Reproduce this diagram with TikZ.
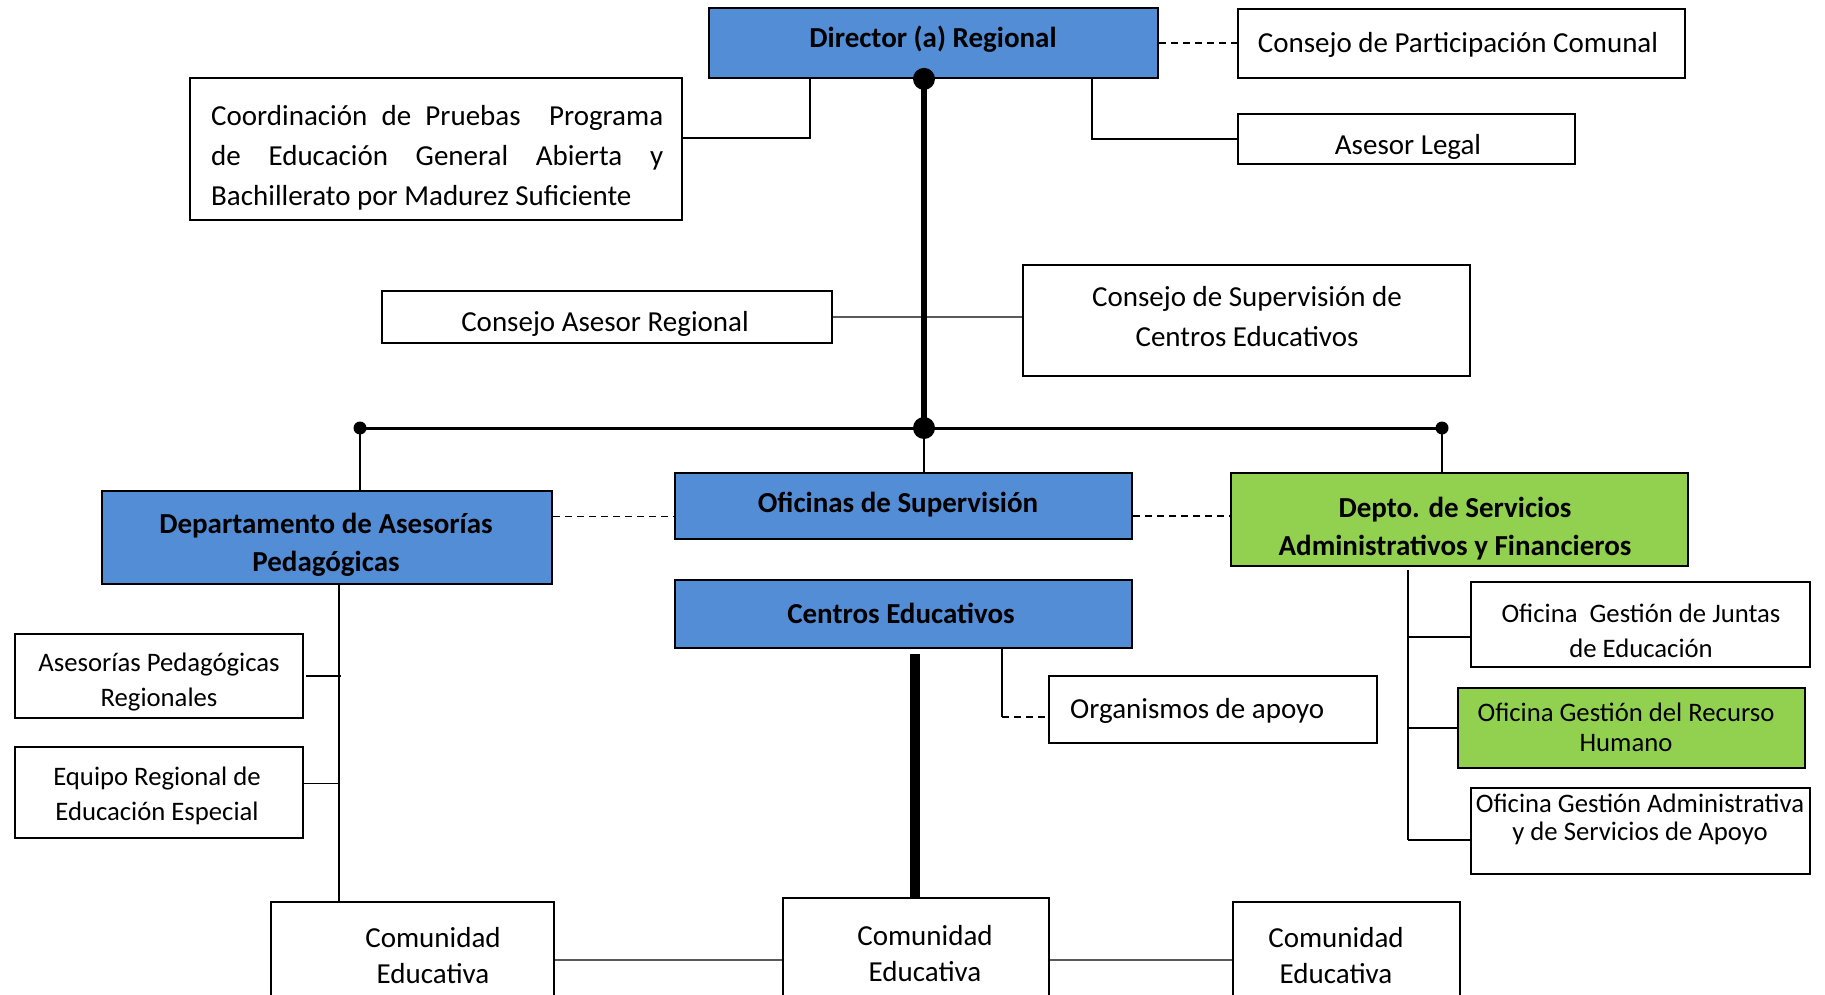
\documentclass[tikz,border=0pt]{standalone}
\usepackage{fontspec}
\setmainfont{Carlito}
\definecolor{bluebox}{RGB}{83,141,213}
\definecolor{greenbox}{RGB}{146,208,80}
\definecolor{grayline}{RGB}{90,90,90}
\newcommand\fsz[2]{\fontsize{#1}{#2}\selectfont}
\begin{document}
\begin{tikzpicture}[x=1pt,y=-1pt,
  box/.style={draw=black, line width=1.8pt, fill=white, inner sep=0pt},
  bluefill/.style={box, fill=bluebox},
  greenfill/.style={box, fill=greenbox},
  txt/.style={inner sep=0pt, align=center, font=\fsz{29}{40}},
  conn/.style={draw=black, line width=1.8pt},
  gconn/.style={draw=grayline, line width=1.8pt},
  dconn/.style={draw=black, line width=1.7pt, dash pattern=on 7pt off 5pt},
  dotbig/.style={circle, fill=black, inner sep=0pt, minimum size=22pt},
  dotsml/.style={circle, fill=black, inner sep=0pt, minimum size=13pt}]
\useasboundingbox[fill=white] (0,0) rectangle (1825,995);

% boxes
\node[bluefill, minimum width=449pt, minimum height=70pt] (dir) at (933.5,43) {};
\node[box, minimum width=447pt, minimum height=69pt] (cpc) at (1461.5,43.5) {};
\node[box, minimum width=337pt, minimum height=50pt] (legal) at (1406.5,139) {};
\node[box, minimum width=492pt, minimum height=142pt] (coord) at (436,149) {};
\node[box, minimum width=450pt, minimum height=52pt] (car) at (607,317) {};
\node[box, minimum width=447pt, minimum height=111pt] (cs) at (1246.5,320.5) {};
\node[bluefill, minimum width=450pt, minimum height=93pt] (dap) at (327,537.5) {};
\node[bluefill, minimum width=457pt, minimum height=66pt] (ofs) at (903.5,506) {};
\node[greenfill, minimum width=457pt, minimum height=93pt] (dsaf) at (1459.5,519.5) {};
\node[bluefill, minimum width=457pt, minimum height=68pt] (ctr) at (903.5,614) {};
\node[box, minimum width=328pt, minimum height=67pt] (org) at (1213,709.5) {};
\node[box, minimum width=288pt, minimum height=84pt] (apr) at (159,676) {};
\node[box, minimum width=288pt, minimum height=91pt] (ere) at (159,792.5) {};
\node[box, minimum width=339pt, minimum height=85pt] (juntas) at (1640.5,624.5) {};
\node[greenfill, minimum width=347pt, minimum height=80pt] (rh) at (1631.5,728) {};
\node[box, minimum width=339pt, minimum height=86pt] (adm) at (1640.5,831) {};
\node[box, minimum width=283pt, minimum height=108pt] (com1) at (412.5,956) {};
\node[box, minimum width=266pt, minimum height=112pt] (com2) at (916,954) {};
\node[box, minimum width=227pt, minimum height=108pt] (com3) at (1346.5,956) {};

% texts
\begin{scope}[yshift=-2.5pt]
\node[txt, font=\fsz{29}{40}\bfseries] (t-dir) at (933,37) {Director (a) Regional};
\node[txt] (t-cpc) at (1458,42) {Consejo de Participación Comunal};
\node[txt] (t-legal) at (1408,144) {Asesor Legal};
\node[txt, anchor=west, align=left] (t-coord) at (211,155)
  {\makebox[452pt][s]{Coordinación de Pruebas \ Programa}\\
   \makebox[452pt][s]{de Educación General Abierta y}\\
   Bachillerato por Madurez Suficiente};
\node[txt] (t-car) at (605,321) {Consejo Asesor Regional};
\node[txt] (t-cs) at (1247,314) {Consejo de Supervisión de\\Centros Educativos};
\node[txt, font=\fsz{29}{38}\bfseries] (t-dap) at (326,542) {Departamento de Asesorías\\Pedagógicas};
\node[txt, font=\fsz{29}{40}\bfseries] (t-ofs) at (898,502) {Oficinas de Supervisión};
\node[txt, font=\fsz{29}{38}\bfseries] (t-dsaf) at (1455,526) {Depto. de Servicios\\Administrativos y Financieros};
\node[txt, font=\fsz{29}{40}\bfseries] (t-ctr) at (901,611) {Centros Educativos};
\node[txt, anchor=west] (t-org) at (1070,708) {Organismos de apoyo};
\node[txt, font=\fsz{26.7}{35}] (t-apr) at (159,680) {Asesorías Pedagógicas\\Regionales};
\node[txt, font=\fsz{26.7}{35}] (t-ere) at (157,793) {Equipo Regional de\\Educación Especial};
\node[txt, font=\fsz{26.7}{35}] (t-juntas) at (1641,628) {Oficina \ Gestión de Juntas\\de Educación};
\node[txt, font=\fsz{26.7}{30}] (t-rh) at (1626,725) {Oficina Gestión del Recurso\\Humano};
\node[txt, font=\fsz{26.7}{28}] (t-adm) at (1640,817) {Oficina Gestión Administrativa\\y de Servicios de Apoyo};
\node[txt, font=\fsz{29}{36}] (t-com1) at (433,953) {Comunidad\\Educativa};
\node[txt, font=\fsz{29}{36}] (t-com2) at (925,951) {Comunidad\\Educativa};
\node[txt, font=\fsz{29}{36}] (t-com3) at (1336,953) {Comunidad\\Educativa};
\end{scope}

% top connectors
\draw[conn] ([yshift=11pt]coord.east) -| ([xshift=-123.5pt]dir.south);
\draw[conn] ([xshift=158.5pt]dir.south) |- (legal.west);
\draw[dconn] (dir.east) -- (dir.east -| cpc.west);

% main trunk
\coordinate (top) at ([xshift=-9.5pt]dir.south);
\coordinate (hub) at (924,428);
\coordinate (hl) at (360,428);
\coordinate (hr) at (1442,428);
\draw[gconn] (car.east) -- (car.east -| cs.west);
\draw[draw=black, line width=6pt] (top) -- (hub);
\draw[draw=black, line width=3pt] (hl) -- (hr);
\draw[conn] (hl) -- (hl |- dap.north);
\draw[conn] (hub) -- (hub |- ofs.north);
\draw[conn] (hr) -- (hr |- dsaf.north);
\node[dotbig] (d-top) at (top) {};
\node[dotbig] (d-hub) at (hub) {};
\node[dotsml] (d-hl) at (hl) {};
\node[dotsml] (d-hr) at (hr) {};

% dashed links between departments
\draw[dconn] ([yshift=21pt]dap.east) -- ([yshift=21pt]dap.east -| ofs.west);
\draw[dconn] ([yshift=-10pt]ofs.east) -- ([yshift=-10pt]ofs.east -| dsaf.west);

% left branch
\coordinate (lt) at ([xshift=12pt]dap.south);
\draw[conn] (lt) -- (lt |- com1.north);
\draw[conn] ([xshift=2pt]apr.east) -- ([xshift=2pt]apr.east -| lt);
\draw[conn] ([yshift=9pt]ere.east) -- ([yshift=9pt]ere.east -| lt);

% centre branch
\coordinate (ct) at ([xshift=11.5pt, yshift=-5pt]ctr.south);
\draw[draw=black, line width=10pt] (ct) -- (ct |- com2.north);
\coordinate (og) at ([xshift=98.5pt]ctr.south);
\coordinate (ogc) at (og |- 0,717);
\draw[conn] (og) -- (ogc);
\draw[dconn] (ogc) -- (ogc -| org.west);

% right branch
\coordinate (rt) at ([xshift=-51.5pt, yshift=-3pt]dsaf.south);
\coordinate (rb) at (rt |- 0,840);
\draw[conn] (rt) -- (rb);
\draw[conn] ([yshift=-12.5pt]juntas.west -| rt) -- ([yshift=-12.5pt]juntas.west);
\draw[conn] (rh.west -| rt) -- (rh.west);
\draw[conn] (rb) -- (rb -| adm.west);

% community links
\draw[gconn] ([yshift=-4pt]com1.east) -- ([yshift=-4pt]com1.east -| com2.west);
\draw[gconn] ([yshift=-6pt]com2.east) -- ([yshift=-6pt]com2.east -| com3.west);
\end{tikzpicture}
\end{document}
